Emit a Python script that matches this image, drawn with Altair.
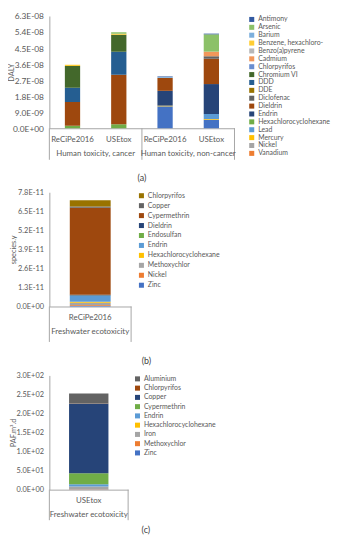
import altair as alt
import pandas as pd

FONT = "Lato"
TEXT = "#595959"
LINE = "#a6a6a6"

# ---------------- Panel (a) ----------------
A_METHODS = ["ReCiPe2016", "USEtox", "ReCiPe2016", "USEtox"]
A_GROUPS = ["Human toxicity, cancer", "Human toxicity, cancer",
            "Human toxicity, non-cancer", "Human toxicity, non-cancer"]
# stacking order, bottom first
A_STACK = ["Zinc", "Vanadium", "Nickel", "Mercury", "Lead", "Hexachlorocyclohexane",
           "Endrin", "Dieldrin", "Diclofenac", "DDE", "DDD", "Chromium VI",
           "Chlorpyrifos", "Cadmium", "Benzo(a)pyrene", "Benzene, hexachloro-",
           "Barium", "Arsenic", "Antimony"]
A_COLORS = ["#4472C4", "#ED7D31", "#A5A5A5", "#FFC000", "#5B9BD5", "#70AD47",
            "#264478", "#9E480E", "#636363", "#997300", "#255E91", "#43682B",
            "#698ED0", "#F1975A", "#B7B7B7", "#FFCD33", "#7CAFDD", "#8CC168", "#335AA1"]
# values in DALY (x1e-9), aligned with A_STACK
A_CANCER_RECIPE = [0, 0, 0, 0, 0, 1.4, 0, 13.4, 0, 0, 7.9, 12.2, 0, 0, 0.1, 0.7, 0, 0, 0]
A_CANCER_USETOX = [0, 0, 0, 0, 0, 2.3, 0, 27.7, 0, 0, 13.0, 9.5, 0, 0, 0, 0.6, 0, 0.8, 0]
A_NONCANCER_RECIPE = [12.3, 0, 0, 0.4, 0, 0, 8.3, 7.3, 0, 0, 0, 0, 0, 0, 0, 0, 0.5, 0, 0.3]
A_NONCANCER_USETOX = [4.8, 0, 0, 0.4, 2.8, 0, 16.8, 14.2, 1.4, 0, 0, 0, 0, 2.6, 0, 0, 0, 9.7, 0.4]
A_SCALE = 1e-9
A_TICKS = [0, 9e-9, 1.8e-8, 2.7e-8, 3.6e-8, 4.5e-8, 5.4e-8, 6.3e-8]
A_LEGEND = [s for s in reversed(A_STACK) if s != "Zinc"]

# ---------------- Panel (b) ----------------
B_METHODS = ["ReCiPe2016"]
B_GROUPS = ["Freshwater ecotoxicity"]
B_STACK = ["Zinc", "Nickel", "Methoxychlor", "Hexachlorocyclohexane", "Endrin",
           "Endosulfan", "Dieldrin", "Cypermethrin", "Copper", "Chlorpyrifos"]
B_COLORS = ["#4472C4", "#ED7D31", "#A5A5A5", "#FFC000", "#5B9BD5",
            "#70AD47", "#264478", "#9E480E", "#636363", "#997300"]
B_RECIPE = [0.05, 0.05, 0.15, 0.08, 0.40, 0.02, 0.05, 5.95, 0.08, 0.42]  # x1e-11
B_SCALE = 1e-11
B_TICKS = [0, 1.3e-11, 2.6e-11, 3.9e-11, 5.2e-11, 6.5e-11, 7.8e-11]
B_LEGEND = list(reversed(B_STACK))

# ---------------- Panel (c) ----------------
C_METHODS = ["USEtox"]
C_GROUPS = ["Freshwater ecotoxicity"]
C_STACK = ["Zinc", "Methoxychlor", "Iron", "Hexachlorocyclohexane", "Endrin",
           "Cypermethrin", "Copper", "Chlorpyrifos", "Aluminium"]
C_COLORS = ["#4472C4", "#ED7D31", "#A5A5A5", "#FFC000", "#5B9BD5",
            "#70AD47", "#264478", "#9E480E", "#636363"]
C_USETOX = [0.5, 0.3, 7.5, 0.2, 5.7, 29.1, 182.3, 0.4, 26.4]
C_SCALE = 1.0
C_TICKS = [0, 50, 100, 150, 200, 250, 300]
C_LEGEND = list(reversed(C_STACK))

E = "format(datum.value,'.1e')"
EXP = f"split({E},'e')[1]"
Y_LABEL_EXPR = (f"split({E},'e')[0] + 'E' + substring({EXP},0,1) + "
                f"(length({EXP}) < 3 ? '0' : '') + substring({EXP},1)")


def panel(methods, groups, stack, colors, bars, scale, ticks, legend_vals,
          y_title, width, height, band, label_size, title_x, legend_offset,
          row_pad, caption, cap_offset, cap_dx, rule_len, group_bp):
    keys = [f"{i}|{m}" for i, m in enumerate(methods)]
    rows = []
    for k, m, g, vals in zip(keys, methods, groups, bars):
        for o, (s, v) in enumerate(zip(stack, vals)):
            if v > 0:
                rows.append({"key": k, "group": g, "substance": s,
                             "value": v * scale, "ord": o})
    df = pd.DataFrame(rows)

    starts, ends, glabels = [], [], []
    for i, (k, g) in enumerate(zip(keys, groups)):
        if i == 0 or groups[i - 1] != g:
            starts.append(k)
            glabels.append({"key": k, "group": g})
        if i == len(keys) - 1:
            ends.append(k)

    xs = alt.Scale(domain=keys, paddingInner=0, paddingOuter=0)
    x_axis = alt.Axis(title=None, labelExpr="split(datum.label,'|')[1]",
                      labelAngle=0, ticks=False, domainColor=LINE,
                      labelColor=TEXT, labelFont=FONT, labelFontSize=8,
                      labelPadding=7, labelOverlap=False)
    bars_layer = alt.Chart(df).mark_bar(width=alt.RelativeBandSize(band)).encode(
        x=alt.X("key:N", scale=xs, axis=x_axis),
        y=alt.Y("value:Q", stack="zero",
                scale=alt.Scale(domain=[ticks[0], ticks[-1]], nice=False),
                axis=alt.Axis(values=ticks, labelExpr=Y_LABEL_EXPR, grid=False,
                              ticks=False, domainColor=LINE, labelColor=TEXT,
                              labelFont=FONT, labelFontSize=label_size, labelPadding=6,
                              title=y_title, titleFont=FONT, titleFontSize=7.5,
                              titleFontWeight="normal", titleColor=TEXT,
                              titleAngle=270, titleAlign="center",
                              titleBaseline="middle", titleX=title_x,
                              titleY=height / 2)),
        color=alt.Color("substance:N", scale=alt.Scale(domain=stack, range=colors),
                        legend=alt.Legend(title=None, values=legend_vals,
                                          symbolType="square", symbolSize=26,
                                          symbolStrokeWidth=0, labelFont=FONT,
                                          labelFontSize=7, labelColor=TEXT,
                                          labelLimit=200, rowPadding=row_pad,
                                          offset=legend_offset, padding=0,
                                          labelOffset=3)),
        order=alt.Order("ord:Q", sort="ascending"),
    )
    start_rules = alt.Chart(pd.DataFrame({"key": starts})).mark_rule(
        color=LINE, strokeWidth=1).encode(
        x=alt.X("key:N", bandPosition=0, scale=xs, axis=x_axis),
        y=alt.value(height), y2=alt.value(height + rule_len))
    end_rules = alt.Chart(pd.DataFrame({"key": ends})).mark_rule(
        color=LINE, strokeWidth=1).encode(
        x=alt.X("key:N", bandPosition=1, scale=xs, axis=x_axis),
        y=alt.value(height), y2=alt.value(height + rule_len))
    group_text = alt.Chart(pd.DataFrame(glabels)).mark_text(
        font=FONT, fontSize=8, color=TEXT, baseline="middle", align="center").encode(
        x=alt.X("key:N", bandPosition=group_bp, scale=xs, axis=x_axis),
        y=alt.value(height + 26),
        text="group:N")
    return alt.layer(bars_layer, start_rules, end_rules, group_text).properties(
        width=width, height=height,
        title=alt.TitleParams(text=caption, orient="bottom", anchor="middle",
                              frame="group", offset=cap_offset, dx=cap_dx,
                              font=FONT, fontSize=9, fontWeight="normal",
                              color="#404040"))


pa = panel(A_METHODS, A_GROUPS, A_STACK, A_COLORS,
           [A_CANCER_RECIPE, A_CANCER_USETOX, A_NONCANCER_RECIPE, A_NONCANCER_USETOX],
           A_SCALE, A_TICKS, A_LEGEND, "DALY", 188, 114, 0.33, 8.5, -38, 14, 0,
           "(a)", 14, 0, 32, 1)
pb = panel(B_METHODS, B_GROUPS, B_STACK, B_COLORS, [B_RECIPE], B_SCALE, B_TICKS,
           B_LEGEND, "species.y", 83, 116, 0.5, 7.5, -36, 7, 2.1,
           "(b)", 15, 57, 36, 0.5)
pc = panel(C_METHODS, C_GROUPS, C_STACK, C_COLORS, [C_USETOX], C_SCALE, C_TICKS,
           C_LEGEND, "PAF.m³.d", 80, 116, 0.5, 7.5, -36, 6, 1.4,
           "(c)", 6, 58, 31, 0.5)

chart = alt.vconcat(pa, pb, pc, spacing=5).resolve_scale(
    color="independent", x="independent", y="independent"
).resolve_legend(color="independent").properties(
    padding={"left": 0, "top": 0, "right": 0, "bottom": 0}
).configure_view(stroke=None)

chart.save("out.html", embed_options={"renderer": "svg", "actions": False})
